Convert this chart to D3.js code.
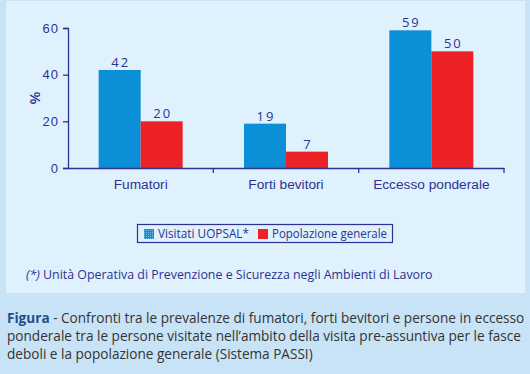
<!DOCTYPE html>
<html>
<head>
<meta charset="utf-8">
<script src="https://cdn.jsdelivr.net/npm/d3@7"></script>
<style>
  body { margin: 0; background: #c8e3f6; }
  svg { display: block; font-family: "Open Sans", "Noto Sans", sans-serif; }
</style>
</head>
<body>
<div id="chart"></div>
<script>
var categories = ["Fumatori", "Forti bevitori", "Eccesso ponderale"];
var seriesNames = ["Visitati UOPSAL*", "Popolazione generale"];
var uopsal = [42, 19, 59];
var popolazione = [20, 7, 50];
var yTicks = [0, 20, 40, 60];
var colors = ["#0b8fd6", "#ed2227"];
var navy = "#2e3192";

var W = 530, H = 374;
var margin = {top: 28, left: 68, right: 26, bottom: 206};
var width = W - margin.left - margin.right,
    height = H - margin.top - margin.bottom;

var svg = d3.select("#chart").append("svg")
    .attr("width", W)
    .attr("height", H);

// dotted fill used by the legend swatch
var pat = svg.append("defs").append("pattern")
    .attr("id", "dots")
    .attr("width", 2).attr("height", 2)
    .attr("patternUnits", "userSpaceOnUse");
pat.append("rect").attr("width", 2).attr("height", 2).attr("fill", colors[0]);
pat.append("rect").attr("width", 1).attr("height", 1).attr("fill", "#6cc0ee");

svg.append("rect").attr("width", W).attr("height", H).attr("fill", "#c8e3f6");
svg.append("rect")
    .attr("x", 6).attr("y", 1)
    .attr("width", 519).attr("height", 292)
    .attr("fill", "#dff1fd");

var g = svg.append("g")
    .attr("transform", "translate(" + margin.left + "," + margin.top + ")");

var x = d3.scaleBand().domain(categories).range([0, width]);
var y = d3.scaleLinear().domain([0, 60]).range([height, 0]);
var barW = 42;

var data = categories.map(function(c, i) {
    return {cat: c, vals: [uopsal[i], popolazione[i]]};
});

// y axis
var yAxis = g.append("g")
    .call(d3.axisLeft(y).tickValues(yTicks).tickSize(5).tickPadding(4));
yAxis.select(".domain").attr("stroke", navy).attr("stroke-width", 1.3);
yAxis.selectAll("line").attr("stroke", navy).attr("stroke-width", 1.3);
yAxis.selectAll("text").attr("fill", navy).style("font-size", "13px").style("letter-spacing", "1px");

g.append("text")
    .attr("transform", "translate(-33," + y(30) + ") rotate(-90)")
    .attr("text-anchor", "middle")
    .attr("dy", "0.35em")
    .attr("fill", navy)
    .style("font-size", "15px")
    .style("font-weight", "600")
    .text("%");

// bars
var groups = g.selectAll(".grp")
    .data(data)
    .enter().append("g")
    .attr("transform", function(d) { return "translate(" + (x(d.cat) + x.bandwidth() / 2 - barW) + ",0)"; });

groups.selectAll("rect")
    .data(function(d) { return d.vals; })
    .enter().append("rect")
    .attr("x", function(d, i) { return i * barW; })
    .attr("y", function(d) { return y(d); })
    .attr("width", barW)
    .attr("height", function(d) { return height - y(d); })
    .attr("fill", function(d, i) { return colors[i]; });

groups.selectAll(".val")
    .data(function(d) { return d.vals; })
    .enter().append("text")
    .attr("x", function(d, i) { return i * barW + barW / 2 + 1; })
    .attr("y", function(d) { return y(d) - 3; })
    .attr("text-anchor", "middle")
    .attr("fill", navy)
    .style("font-size", "13px")
    .style("letter-spacing", "2px")
    .text(function(d) { return d; });

// x axis
var xAxis = g.append("g")
    .attr("transform", "translate(0," + height + ")")
    .call(d3.axisBottom(x).tickSize(0).tickPadding(11));
xAxis.select(".domain").attr("stroke", navy).attr("stroke-width", 1.3);
xAxis.selectAll("text").attr("fill", navy).style("font-size", "13.7px");
g.append("g")
    .selectAll("line")
    .data(categories)
    .enter().append("line")
    .attr("x1", function(d) { return x(d) + x.bandwidth(); })
    .attr("x2", function(d) { return x(d) + x.bandwidth(); })
    .attr("y1", height)
    .attr("y2", height + 5)
    .attr("stroke", navy)
    .attr("stroke-width", 1.3);

// legend
svg.append("rect")
    .attr("x", 137.5).attr("y", 224.5)
    .attr("width", 255).attr("height", 18)
    .attr("fill", "none")
    .attr("stroke", navy)
    .attr("stroke-width", 1.2);
var legX = [144, 258];
var legW = [91, 115];
seriesNames.forEach(function(s, i) {
    svg.append("rect")
        .attr("x", legX[i]).attr("y", 229)
        .attr("width", 10).attr("height", 10)
        .attr("fill", i === 0 ? "url(#dots)" : colors[i]);
    svg.append("text")
        .attr("x", legX[i] + 14).attr("y", 238)
        .attr("fill", navy)
        .attr("textLength", legW[i])
        .attr("lengthAdjust", "spacingAndGlyphs")
        .style("font-size", "13px")
        .text(s);
});

// footnote
svg.append("text")
    .attr("x", 26).attr("y", 279)
    .attr("fill", navy)
    .style("font-size", "12.4px")
    .html("<tspan font-style='italic'>(*)</tspan> Unità Operativa di Prevenzione e Sicurezza negli Ambienti di Lavoro");

// caption
var captionLines = [
    "Confronti tra le prevalenze di fumatori, forti bevitori e persone in eccesso",
    "ponderale tra le persone visitate nell\u2019ambito della visita pre-assuntiva per le fasce",
    "deboli e la popolazione generale (Sistema PASSI)"
];
var cap = svg.append("text")
    .attr("fill", "#333")
    .style("font-size", "13.6px");
cap.append("tspan").attr("x", 7).attr("y", 323)
    .attr("fill", "#1f4e8c").attr("font-weight", "bold").text("Figura");
cap.append("tspan").text(" - " + captionLines[0]);
cap.append("tspan").attr("x", 7).attr("y", 341).text(captionLines[1]);
cap.append("tspan").attr("x", 7).attr("y", 359).text(captionLines[2]);
</script>
</body>
</html>
